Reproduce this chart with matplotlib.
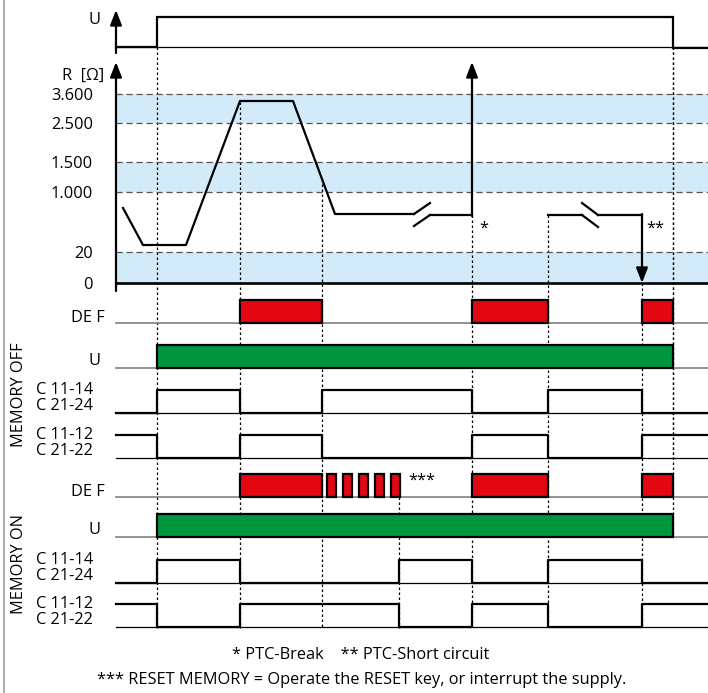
import matplotlib
matplotlib.use("Agg")
import matplotlib.pyplot as plt
from matplotlib.patches import Rectangle

plt.rcParams['font.family'] = ['Open Sans', 'DejaVu Sans']

# ---------------- data (time axis in drawing units) ----------------
t_start, t_end = 116, 708
supply_on, supply_off = 157, 673
event_times = [157, 240, 322, 399, 472, 548, 642, 673]

# R curve (resistance trace, vertical units of the R panel)
r_seg1_x = [123, 143, 186, 240, 293, 335, 414]
r_seg1_y = [208, 245, 245, 101, 101, 214, 214]
r_seg2_x = [430, 472]
r_seg2_y = [215, 215]
r_seg3_x = [548, 582]
r_seg3_y = [215, 215]
r_seg4_x = [598, 642]
r_seg4_y = [215, 215]
r_tick_labels = ['3.600', '2.500', '1.500', '1.000', '20', '0']
r_tick_pos = [94, 123, 162, 192, 252, 283]
r_bands = [(94, 123), (162, 192), (252, 283)]

# relay states
def_off_intervals = [(240, 322), (472, 548), (642, 673)]
def_on_intervals = [(240, 322), (327, 336), (343, 352), (359, 368), (375, 384),
                    (391, 400), (472, 548), (642, 673)]
c1114_off_t = [116, 157, 240, 322, 472, 548, 642, 708]
c1114_off_s = [0, 1, 0, 1, 0, 1, 0, 0]
c1112_off_s = [1, 0, 1, 0, 1, 0, 1, 1]
c1114_on_t = [116, 157, 240, 399, 472, 548, 642, 708]
c1114_on_s = [0, 1, 0, 1, 0, 1, 0, 0]
c1112_on_s = [1, 0, 1, 0, 1, 0, 1, 1]

footnote1 = "* PTC-Break    ** PTC-Short circuit"
footnote2 = "*** RESET MEMORY = Operate the RESET key, or interrupt the supply."

# ---------------- figure ----------------
fig = plt.figure(figsize=(7.08, 6.93), dpi=100)
ax = fig.add_axes([0, 0, 1, 1])
ax.set_xlim(0, 708)
ax.set_ylim(693, 0)
ax.axis('off')

FS = 11.8
LW = 1.6
BLUE = '#d3eaf9'
RED = '#e30613'
GREEN = '#00963f'
GRAY = '#808080'

# left border
ax.plot([4, 4], [0, 693], color='#b0b0b0', lw=1.5)

def arrow(x, y0, y1):
    ax.annotate('', xy=(x, y1), xytext=(x, y0),
                arrowprops=dict(arrowstyle='-|>,head_length=0.9,head_width=0.35',
                                lw=LW, color='k', shrinkA=0, shrinkB=0))

# ---- supply U (top) ----
u_base, u_high = 47, 17
arrow(t_start, 53, 10)
ax.text(101, 20, 'U', fontsize=FS, ha='right', va='center')
ax.plot([t_start, t_end], [u_base, u_base], color='k', lw=0.9)
ax.plot([t_start, supply_on, supply_on, supply_off, supply_off, t_end],
        [u_base, u_base, u_high, u_high, u_base + 1, u_base + 1], color='k', lw=LW,
        solid_joinstyle='miter')

# ---- R panel ----
for lo, hi in r_bands:
    ax.add_patch(Rectangle((t_start, lo), t_end - t_start, hi - lo, color=BLUE, lw=0, zorder=0))
for p in r_tick_pos[:-1]:
    ax.plot([t_start, t_end], [p, p], color='#555555', lw=0.9, dashes=(5, 3), zorder=1)
for lab, p in zip(r_tick_labels, r_tick_pos):
    ax.text(93, p + 2, lab, fontsize=FS, ha='right', va='center')
ax.text(104, 76, 'R  [Ω]', fontsize=FS, ha='right', va='center')
ax.plot([t_start, t_end], [283, 283], color='k', lw=LW + 0.3)
arrow(t_start, 291, 62)

ax.plot(r_seg1_x, r_seg1_y, color='k', lw=LW, zorder=3)
ax.plot(r_seg2_x, r_seg2_y, color='k', lw=LW, zorder=3)
ax.plot(r_seg3_x, r_seg3_y, color='k', lw=LW, zorder=3)
ax.plot(r_seg4_x, r_seg4_y, color='k', lw=LW, zorder=3)
# break marks
ax.plot([414, 430], [214, 203], color='k', lw=LW)
ax.plot([414, 430], [226, 215], color='k', lw=LW)
ax.plot([582, 598], [215, 227], color='k', lw=LW)
ax.plot([582, 598], [203, 215], color='k', lw=LW)
arrow(472, 216, 62)
arrow(642, 214, 283)
ax.text(484, 229, '*', fontsize=FS, ha='center', va='center')
ax.text(655, 229, '**', fontsize=FS, ha='center', va='center')

# ---- dotted event lines ----
dot = dict(color='k', lw=0.9, dashes=(2, 2), zorder=0.5)
ax.plot([157, 157], [47, 628], **dot)
ax.plot([240, 240], [102, 628], **dot)
ax.plot([322, 322], [179, 628], **dot)
ax.plot([399, 399], [497, 628], **dot)
ax.plot([472, 472], [215, 628], **dot)
ax.plot([548, 548], [215, 628], **dot)
ax.plot([642, 642], [283, 628], **dot)
ax.plot([673, 673], [47, 537], **dot)
ax.plot([673, 673], [47, 458], **dot)

# ---- rows ----
def def_row(base, intervals):
    ax.plot([t_start, t_end], [base, base], color=GRAY, lw=1.2, zorder=1)
    for a, b in intervals:
        ax.add_patch(Rectangle((a, base - 23), b - a, 23, facecolor=RED,
                               edgecolor='k', lw=LW, zorder=3))
    ax.text(105, base - 5, 'DE F', fontsize=FS, ha='right', va='center')

def u_row(base):
    ax.plot([t_start, t_end], [base, base], color=GRAY, lw=1.2, zorder=1)
    ax.add_patch(Rectangle((supply_on, base - 23), supply_off - supply_on, 23,
                           facecolor=GREEN, edgecolor='k', lw=LW, zorder=3))
    ax.text(101, base - 7, 'U', fontsize=FS, ha='right', va='center')

def contact_row(base, t, s, lab1, lab2):
    ax.plot([t_start, t_end], [base, base], color='k', lw=0.9, zorder=1)
    ys = [base - 23 * v for v in s]
    ax.step(t, ys, where='post', color='k', lw=LW, zorder=3)
    ax.text(36, base - 23, lab1, fontsize=FS, ha='left', va='center')
    ax.text(36, base - 7, lab2, fontsize=FS, ha='left', va='center')

# MEMORY OFF
def_row(323, def_off_intervals)
u_row(368)
contact_row(413, c1114_off_t, c1114_off_s, 'C 11-14', 'C 21-24')
contact_row(458, c1114_off_t, c1112_off_s, 'C 11-12', 'C 21-22')
ax.text(19, 395, 'MEMORY OFF', fontsize=FS, rotation=90, ha='center', va='center')

# MEMORY ON
def_row(497, def_on_intervals)
ax.text(422, 481, '***', fontsize=FS, ha='center', va='center')
u_row(537)
contact_row(583, c1114_on_t, c1114_on_s, 'C 11-14', 'C 21-24')
contact_row(627, c1114_on_t, c1112_on_s, 'C 11-12', 'C 21-22')
ax.text(19, 564, 'MEMORY ON', fontsize=FS, rotation=90, ha='center', va='center')

# footnotes
ax.text(361, 655, footnote1, fontsize=FS, ha='center', va='center')
ax.text(362, 680, footnote2, fontsize=FS, ha='center', va='center')

fig.savefig('out.png', dpi=100)
